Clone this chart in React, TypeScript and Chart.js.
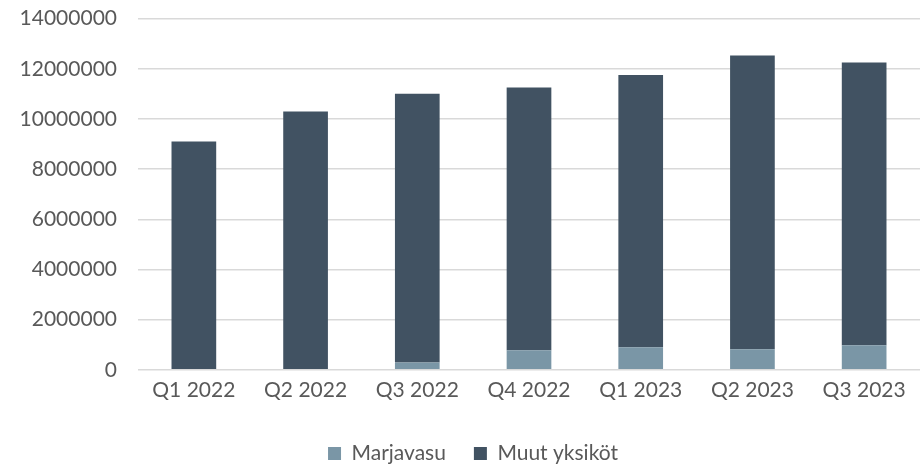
import React, { useEffect, useRef } from "react";
import { Chart, registerables } from "chart.js";

Chart.register(...registerables);

const categories = ["Q1 2022", "Q2 2022", "Q3 2022", "Q4 2022", "Q1 2023", "Q2 2023", "Q3 2023"];
const marjavasu = [0, 0, 290000, 780000, 900000, 820000, 980000];
const muutYksikot = [9100000, 10300000, 10710000, 10470000, 10850000, 11710000, 11270000];
const seriesNames = ["Marjavasu", "Muut yksiköt"];
const yTicks = [0, 2000000, 4000000, 6000000, 8000000, 10000000, 12000000, 14000000];

const TEXT = "#595959";
const FONT = "Lato";

const legendTweak = {
  id: "legendTweak",
  beforeUpdate(chart: any) {
    const lg = chart.legend;
    if (lg && !lg._tweaked) {
      lg._tweaked = true;
      const origFit = lg.fit.bind(lg);
      lg.fit = function () {
        origFit();
        this.height = 56;
      };
      const origDraw = lg._draw.bind(lg);
      lg._draw = function () {
        const ctx = this.ctx;
        ctx.save();
        ctx.translate(13, 4);
        origDraw();
        ctx.restore();
      };
    }
  },
};

export default function App() {
  const ref = useRef<HTMLCanvasElement | null>(null);
  useEffect(() => {
    if (!ref.current) return;
    const chart = new Chart(ref.current, {
      type: "bar",
      data: {
        labels: categories,
        datasets: [
          { label: seriesNames[0], data: marjavasu, backgroundColor: "#7a96a6", borderWidth: 0 },
          { label: seriesNames[1], data: muutYksikot, backgroundColor: "#415262", borderWidth: 0 },
        ],
      },
      plugins: [legendTweak],
      options: {
        animation: false,
        responsive: true,
        maintainAspectRatio: false,
        datasets: { bar: { barPercentage: 0.4, categoryPercentage: 1.0 } },
        layout: { padding: { top: 18.6, right: 3, left: 0, bottom: 0 } },
        font: { family: FONT, size: 21 },
        scales: {
          x: {
            stacked: true,
            grid: { display: false, drawTicks: false },
            border: { display: false },
            ticks: { color: TEXT, font: { family: FONT, size: 21 }, padding: 8, maxRotation: 0 },
          },
          y: {
            stacked: true,
            min: 0,
            max: 14000000,
            afterFit(scale: any) {
              scale.width = 138;
              scale.paddingTop = 0;
            },
            afterBuildTicks(scale: any) {
              scale.ticks = yTicks.map((v) => ({ value: v }));
            },
            grid: { color: "#d9d9d9", lineWidth: 1.5, drawTicks: false },
            border: { display: false },
            ticks: {
              color: TEXT,
              font: { family: FONT, size: 21 },
              padding: 21,
              callback: (v: any) => String(v),
            },
          },
        },
        plugins: {
          legend: {
            position: "bottom",
            labels: {
              color: TEXT,
              font: { family: FONT, size: 21 },
              boxWidth: 13,
              boxHeight: 13,
              padding: 28,
            },
          },
          tooltip: { enabled: false },
        },
      } as any,
    });
    return () => chart.destroy();
  }, []);
  return (
    <div style={{ position: "absolute", left: 0, top: 0, width: 923, height: 467 }}>
      <canvas ref={ref} />
    </div>
  );
}
